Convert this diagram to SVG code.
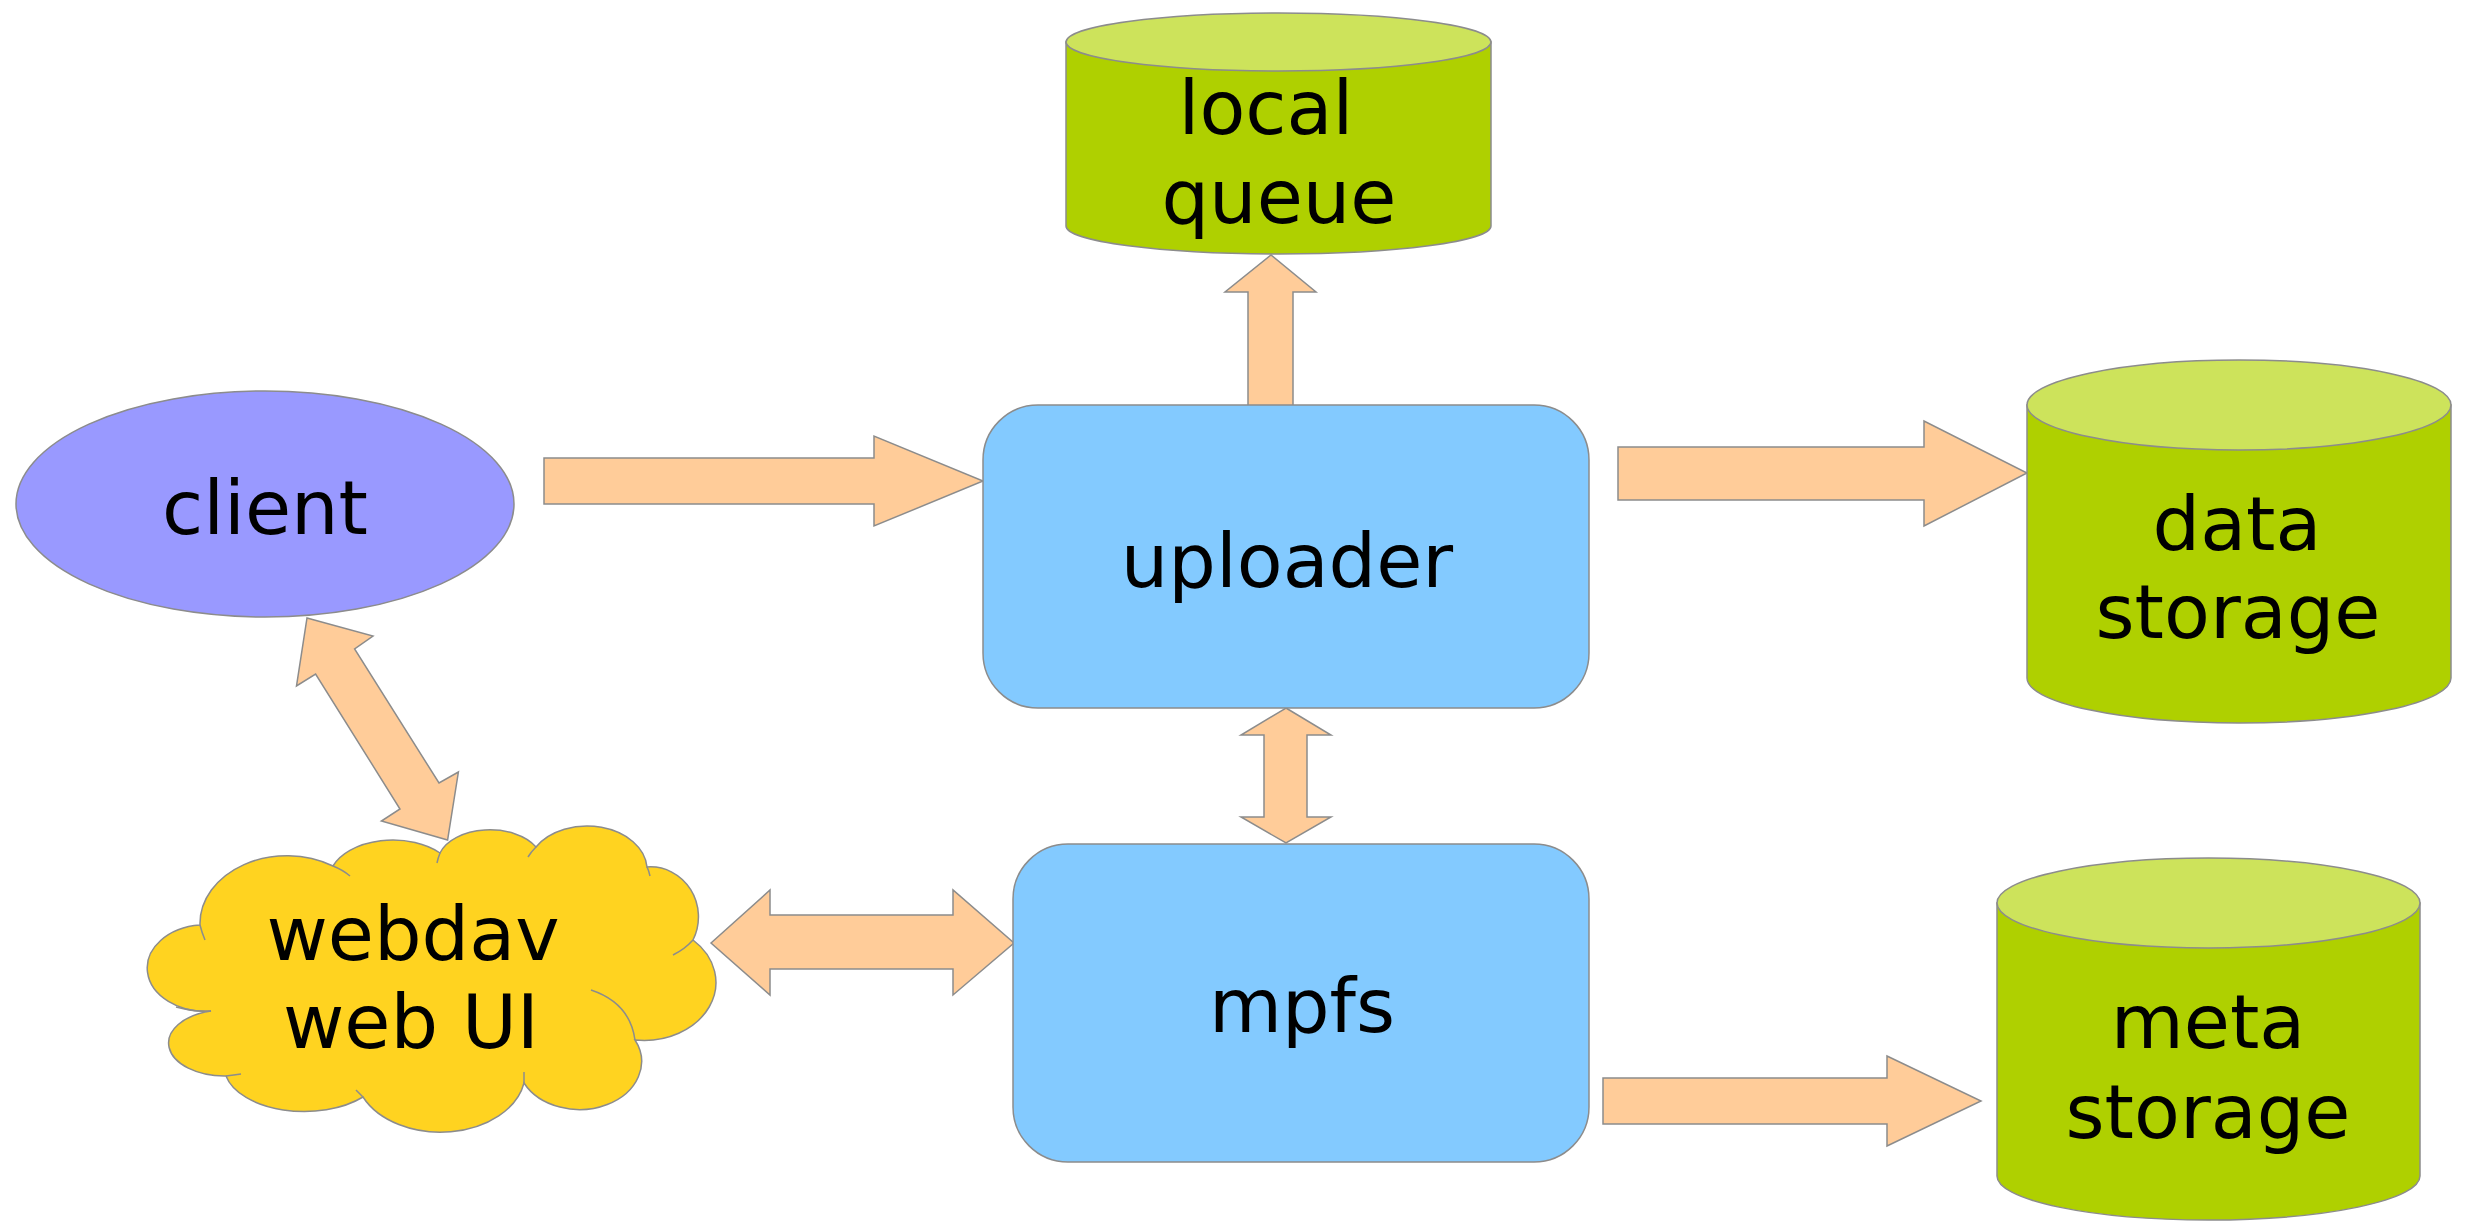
<svg xmlns="http://www.w3.org/2000/svg" width="2465" height="1221" viewBox="0 0 2465 1221">
<style>
.arrow{fill:#ffcc99;stroke:#8c8c8c;stroke-width:1.5;stroke-linejoin:miter}
.box{fill:#83caff;stroke:#8c8c8c;stroke-width:1.5}
.body{fill:#afd000;stroke:#8c8c8c;stroke-width:1.5}
.lid{fill:#cde35b;stroke:#8c8c8c;stroke-width:1.5}
.cloud{fill:#ffd320;stroke:#8c8c8c;stroke-width:1.5}
.stub{fill:none;stroke:#8c8c8c;stroke-width:1.5}
.t{font-family:"DejaVu Sans",Verdana,sans-serif;font-size:75px;fill:#000;text-anchor:middle}
</style>
<rect width="2465" height="1221" fill="#ffffff"/>
<g id="connectors">
<polygon class="arrow" points="544,458 874,458 874,436 983,481 874,526 874,504 544,504"/>
<polygon class="arrow" points="1618,447 1924,447 1924,421 2027,473 1924,526 1924,500 1618,500"/>
<polygon class="arrow" points="1603,1078 1887,1078 1887,1056 1981,1101 1887,1146 1887,1124 1603,1124"/>
<polygon class="arrow" points="1248,406 1248,292 1225,292 1271,255 1316,292 1293,292 1293,406"/>
<polygon class="arrow" points="1286,708 1331,735 1307,735 1307,817 1331,817 1286,843 1241,817 1264,817 1264,735 1241,735"/>
<polygon class="arrow" points="711,943 770,890 770,915 953,915 953,890 1014,943 953,995 953,969 770,969 770,995"/>
<polygon class="arrow" points="307,618 373,636 354.6,649 439,783 458.4,772 447.6,840 381.4,821 400,809 315.6,674 296.5,686"/>
</g>
<g id="client">
<ellipse cx="265" cy="504" rx="249" ry="113" fill="#9999ff" stroke="#8c8c8c" stroke-width="1.5"/>
<text class="t" x="265" y="534">client</text>
</g>
<g id="local-queue">
<path class="body" d="M1066,42 V226 A212.5,28 0 0 0 1491,226 V42 Z"/>
<ellipse class="lid" cx="1278.5" cy="42" rx="212.5" ry="29"/>
<text class="t" x="1266" y="134">local</text>
<text class="t" x="1279" y="223">queue</text>
</g>
<g id="uploader">
<rect class="box" x="983" y="405" width="606" height="303" rx="55" ry="55"/>
<text class="t" x="1287" y="587">uploader</text>
</g>
<g id="data-storage">
<path class="body" d="M2027,405 V678 A212,45 0 0 0 2451,678 V405 Z"/>
<ellipse class="lid" cx="2239" cy="405" rx="212" ry="45"/>
<text class="t" x="2237" y="550">data</text>
<text class="t" x="2238" y="638">storage</text>
</g>
<g id="mpfs">
<rect class="box" x="1013" y="844" width="576" height="318" rx="55" ry="55"/>
<text class="t" x="1302" y="1032">mpfs</text>
</g>
<g id="meta-storage">
<path class="body" d="M1997,903 V1176 A211.5,44 0 0 0 2420,1176 V903 Z"/>
<ellipse class="lid" cx="2208.5" cy="903" rx="211.5" ry="45"/>
<text class="t" x="2208" y="1048">meta</text>
<text class="t" x="2208" y="1138">storage</text>
</g>
<g id="webdav">
<path class="cloud" d="M200,925 A87,68 0 0 1 333,866 A64,40 0 0 1 440,853 A52,32 0 0 1 536,847 A60,44 0 0 1 647,867 A48,50 0 0 1 693,940 A72,58 0 0 1 635,1040 A62,48 0 0 1 524,1083 A85,60 0 0 1 363,1097 A80,45 0 0 1 226,1076 A56,33 0 0 1 211,1011 A58,43 0 0 1 200,925 Z"/>
<path class="stub" d="M200,925 Q202,933 205,940"/>
<path class="stub" d="M333,866 Q343,870 350,876"/>
<path class="stub" d="M440,853 Q438,858 437,863"/>
<path class="stub" d="M536,847 Q531,852 528,857"/>
<path class="stub" d="M647,867 Q649,871 650,876"/>
<path class="stub" d="M693,940 Q685,949 673,955"/>
<path class="stub" d="M591,990 Q630,1003 635,1040"/>
<path class="stub" d="M524,1083 Q524,1077 524,1072"/>
<path class="stub" d="M363,1097 Q359,1093 356,1090"/>
<path class="stub" d="M226,1076 Q234,1075 241,1074"/>
<path class="stub" d="M176,1007 Q194,1012 211,1011"/>
<text class="t" x="413" y="960">webdav</text>
<text class="t" x="411" y="1048">web UI</text>
</g>
</svg>
